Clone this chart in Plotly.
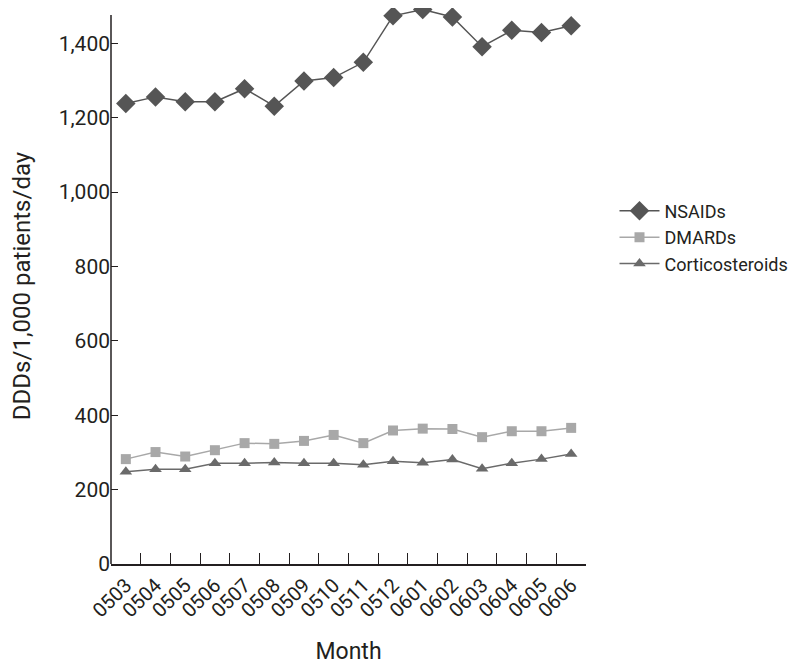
import plotly.graph_objects as go

months = ["0503", "0504", "0505", "0506", "0507", "0508", "0509", "0510",
          "0511", "0512", "0601", "0602", "0603", "0604", "0605", "0606"]

nsaids = [1238, 1256, 1243, 1243, 1278, 1231, 1299, 1308,
          1349, 1474, 1491, 1471, 1391, 1435, 1429, 1447]
dmards = [282, 301, 289, 306, 325, 323, 331, 347,
          325, 359, 364, 363, 341, 357, 357, 366]
cortico = [248, 255, 255, 271, 271, 273, 271, 271,
           267, 276, 272, 281, 256, 271, 282, 296]

y_ticks = [0, 200, 400, 600, 800, 1000, 1200, 1400]
y_axis_top = 1476

font_family = "Roboto, Liberation Sans, sans-serif"
ink = "#231f20"

fig = go.Figure()

fig.add_trace(go.Scatter(
    x=months, y=nsaids, name="NSAIDs", mode="lines+markers",
    line={"color": "#555555", "width": 1.5},
    marker={"symbol": "diamond", "size": 15, "color": "#555555"},
    cliponaxis=False,
))
fig.add_trace(go.Scatter(
    x=months, y=dmards, name="DMARDs", mode="lines+markers",
    line={"color": "#a8a8a8", "width": 1.5},
    marker={"symbol": "square", "size": 10, "color": "#a8a8a8"},
    cliponaxis=False,
))
fig.add_trace(go.Scatter(
    x=months, y=cortico, name="Corticosteroids", mode="lines+markers",
    line={"color": "#6a6a6a", "width": 1.5},
    marker={"symbol": "triangle-up", "size": 11, "color": "#6a6a6a"},
    cliponaxis=False,
))

# y axis line stops a bit below the top of the plotting area
fig.add_shape(type="line", xref="paper", yref="y", x0=0, x1=0, y0=0, y1=y_axis_top,
              line={"color": ink, "width": 1.5})

fig.update_layout(
    width=788, height=657,
    margin={"l": 103, "r": 210, "t": 0, "b": 101},
    paper_bgcolor="white",
    plot_bgcolor="white",
    font={"family": font_family, "color": ink, "size": 19},
    legend={
        "x": 1.06, "y": 0.668, "xanchor": "left", "yanchor": "top",
        "font": {"size": 18, "family": font_family},
        "bgcolor": "rgba(0,0,0,0)",
        "tracegroupgap": 0,
        "itemwidth": 40,
    },
    xaxis={
        "title": {"text": "Month", "font": {"size": 23}, "standoff": 25},
        "type": "category",
        "tickson": "boundaries",
        "ticks": "inside", "ticklen": 11, "tickcolor": ink, "tickwidth": 1,
        "tickangle": -45,
        "tickfont": {"size": 20},
        "showline": True, "linecolor": ink, "linewidth": 1.5,
        "showgrid": False, "zeroline": False,
        "range": [-0.5, 15.5],
        "automargin": False,
    },
    yaxis={
        "title": {"text": "DDDs/1,000 patients/day", "font": {"size": 24}, "standoff": 34},
        "range": [0, 1495],
        "tickvals": y_ticks,
        "tickformat": ",d",
        "ticks": "inside", "ticklen": 7, "tickcolor": ink,
        "tickfont": {"size": 21},
        "showline": False,
        "showgrid": False, "zeroline": False,
        "automargin": False,
    },
)

fig.write_html("out.html")
